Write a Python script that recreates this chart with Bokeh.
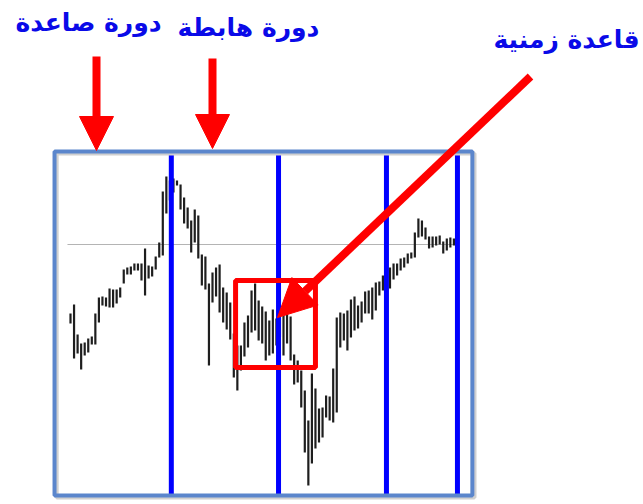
from bokeh.plotting import figure
from bokeh.models import Range1d, Label, Arrow, NormalHead, BoxAnnotation, ColumnDataSource
from bokeh.embed import file_html
from bokeh.resources import INLINE

# ---------------- data ----------------
bar_index = list(range(109))
bar_high = [187, 196, 166, 157, 158, 162, 164, 187, 203, 204,
            203, 212, 211, 211, 213, 231, 233, 234, 237, 237,
            237, 252, 235, 234, 244, 258, 309, 324, 320, 322,
            320, 316, 303, 293, 280, 291, 285, 246, 244, 217,
            228, 233, 236, 213, 208, 198, 167, 155, 155, 178,
            185, 210, 217, 200, 194, 189, 180, 191, 182, 183,
            185, 188, 184, 146, 140, 130, 110, 80, 127, 112,
            92, 93, 105, 104, 132, 183, 188, 187, 190, 201,
            204, 195, 199, 209, 210, 213, 218, 219, 225, 230,
            233, 237, 237, 242, 243, 247, 248, 268, 282, 280,
            273, 264, 264, 264, 265, 259, 262, 263, 262]
bar_low = [177, 142, 147, 131, 145, 148, 156, 156, 178, 195,
           194, 193, 193, 197, 203, 217, 226, 226, 230, 230,
           220, 205, 222, 224, 231, 243, 245, 287, 300, 308,
           315, 291, 277, 272, 248, 258, 242, 215, 211, 135,
           198, 204, 188, 178, 171, 161, 123, 110, 130, 144,
           153, 168, 170, 160, 157, 140, 145, 147, 155, 163,
           145, 157, 140, 116, 118, 93, 48, 15, 37, 52,
           58, 63, 83, 80, 78, 88, 153, 160, 150, 163,
           170, 172, 178, 187, 187, 181, 190, 205, 210, 212,
           212, 221, 225, 230, 233, 237, 242, 243, 263, 264,
           261, 252, 253, 255, 256, 247, 250, 253, 255]
cycle_bounds = [28.4, 58.6, 89.0, 109.0]      # bar index of the cycle lines
base_level = 256                               # grey reference price
base_level_bars = [-0.85, 108.5]
time_base_bars = [46.5, 69.0]                  # red "time base" box
time_base_price = [133, 220]
frame_bars = [-4.5, 113.2]
frame_price = [5, 349]
label_texts = ["دورة صاعدة", "دورة هابطة", "قاعدة زمنية"]

# ---------------- layout ----------------
W, H = 643, 504
BAR_PX = 3.55
X0_PX = 70


def dx(px):
    return (px - X0_PX) / BAR_PX


def dy(py):
    return 500 - py


p = figure(width=W, height=H, output_backend="svg", toolbar_location=None,
           x_range=Range1d(dx(0), dx(W)), y_range=Range1d(dy(H), dy(0)),
           x_axis_location=None, y_axis_location=None, min_border=0)
p.grid.visible = False
p.outline_line_color = None
p.background_fill_color = "white"
p.border_fill_color = "white"

# grey base level
p.segment(x0=[base_level_bars[0]], x1=[base_level_bars[1]], y0=[base_level], y1=[base_level],
          line_color="#b4b4b4", line_width=1)

# price bars
src = ColumnDataSource(dict(x=bar_index, hi=bar_high, lo=bar_low))
p.segment(x0="x", x1="x", y0="lo", y1="hi", source=src, line_color="#1e1e1e", line_width=2.2)

# cycle lines
p.segment(x0=cycle_bounds, x1=cycle_bounds,
          y0=[frame_price[0]] * len(cycle_bounds), y1=[frame_price[1]] * len(cycle_bounds),
          line_color="#0000ff", line_width=5)

# frame border with faint shadow
p.quad(left=[frame_bars[0] + 0.6], right=[frame_bars[1] + 0.6],
       bottom=[frame_price[0] - 2], top=[frame_price[1] - 2],
       fill_color=None, line_color="#d0d0d0", line_width=4)
p.quad(left=[frame_bars[0]], right=[frame_bars[1]], bottom=[frame_price[0]], top=[frame_price[1]],
       fill_color=None, line_color="#5b86cc", line_width=4)

# time base box
p.add_layout(BoxAnnotation(left=time_base_bars[0], right=time_base_bars[1],
                           bottom=time_base_price[0], top=time_base_price[1],
                           fill_alpha=0, line_color="#ff0000", line_width=5, line_alpha=1))

# arrows
arrows = [((96, 56), (96, 150), 34), ((212, 58), (212, 148), 34), ((530, 76), (277, 317), 38)]
for (sx, sy), (ex, ey), hs in arrows:
    p.add_layout(Arrow(end=NormalHead(size=hs, fill_color="#ff0000", line_color="#ff0000", line_width=1),
                       x_start=dx(sx), y_start=dy(sy), x_end=dx(ex), y_end=dy(ey),
                       line_color="#ff0000", line_width=8))

# labels
label_pos = [(88, 22), (248, 27), (566, 39)]
for txt, (lx, ly) in zip(label_texts, label_pos):
    p.add_layout(Label(x=dx(lx), y=dy(ly), text=txt, text_align="center", text_baseline="middle",
                       text_font="DejaVu Sans", text_font_style="bold", text_font_size="25px",
                       text_color="#0a0ae8"))

open("out.html", "w").write(file_html(p, INLINE))
